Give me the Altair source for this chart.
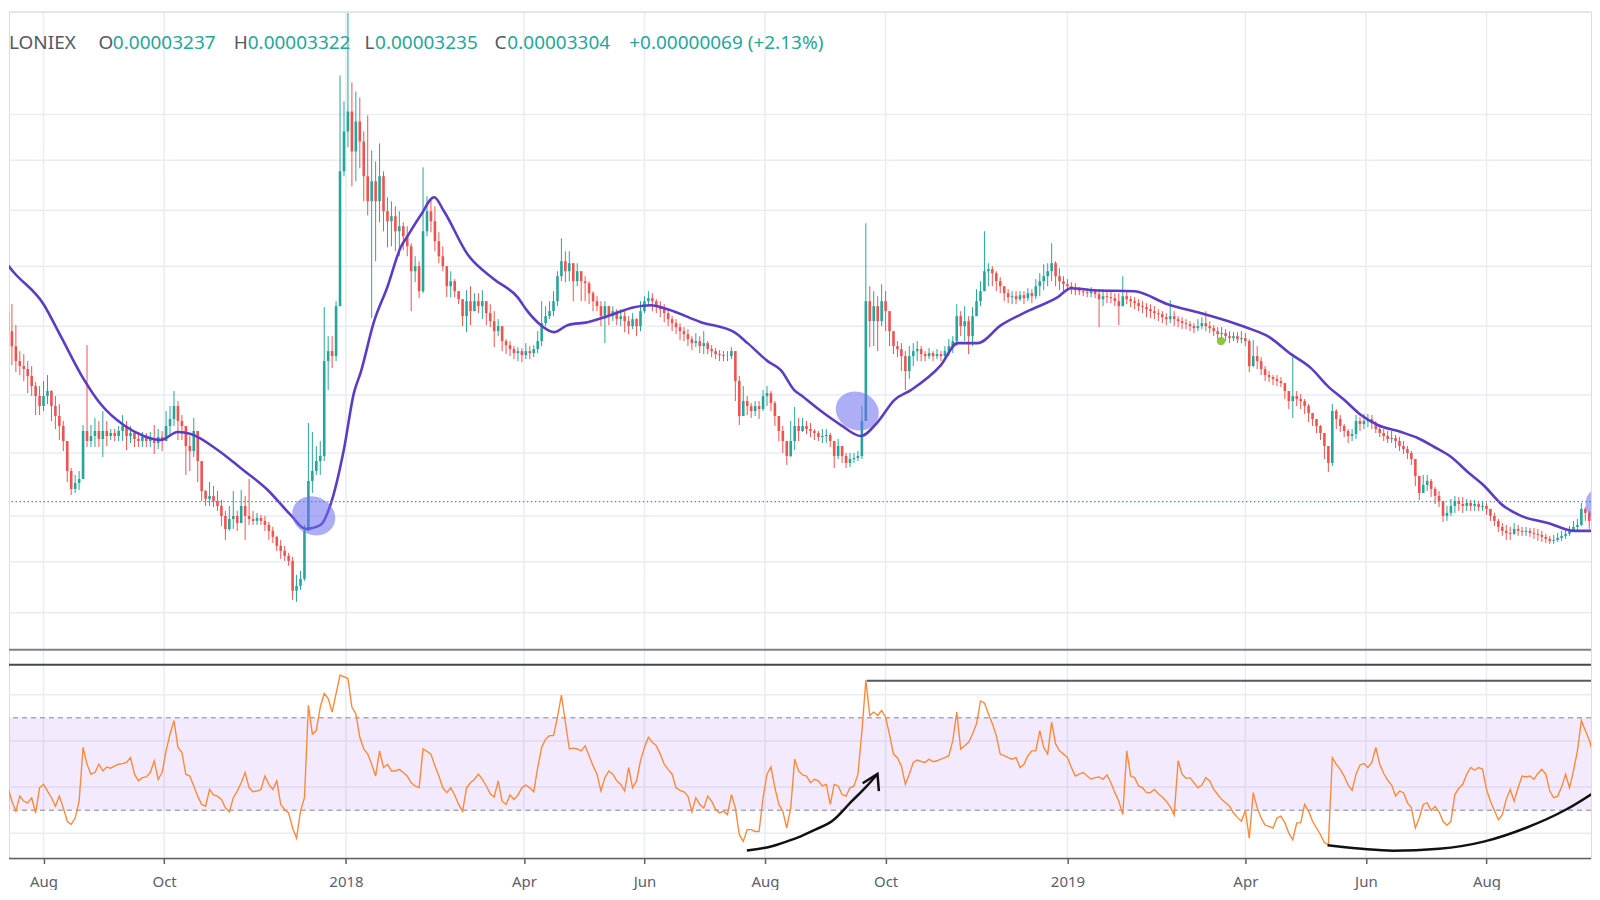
import altair as alt
import pandas as pd

# ---------------- data ----------------
# prices in units of 1e-7 BTC, 2-day candles starting 2017-07-14
FIRST_CANDLE = "2017-07-14"
first_open = 520
close = [
501,486,471,466,463,456,446,436,426,436,
441,426,416,406,391,361,343,349,353,401,
391,396,401,393,401,396,399,396,401,406,
396,399,393,391,395,391,393,389,395,391,
406,413,426,411,406,386,381,401,371,341,
333,336,331,326,316,303,313,316,309,326,
316,313,311,314,311,307,301,295,286,281,
276,271,241,246,253,301,351,361,371,376,
471,481,476,526,661,701,721,681,711,691,
656,631,651,631,656,621,611,616,601,606,
596,586,561,566,541,601,621,611,591,576,
566,546,551,541,533,516,531,521,531,526,
531,519,511,501,506,491,487,483,479,481,
477,481,479,483,491,509,516,521,531,556,
571,561,569,551,561,551,549,539,531,526,
516,526,516,521,513,516,511,506,513,506,
521,531,534,531,526,523,519,513,509,505,
501,498,493,489,491,486,489,483,481,478,
477,476,476,481,451,416,431,426,421,426,
423,436,439,429,416,401,391,376,391,406,
401,406,403,401,399,395,396,397,391,376,
386,376,369,373,374,376,411,531,511,526,
511,531,521,501,486,483,476,461,476,481,
483,478,476,479,476,478,476,481,486,491,
516,506,511,496,516,531,541,561,563,559,
551,546,539,535,536,533,537,534,539,536,
546,551,556,561,569,556,551,548,546,544,
542,541,540,539,541,538,533,536,535,534,
531,526,536,533,531,529,526,525,523,521,
519,518,515,513,516,513,511,509,508,506,
504,506,509,506,504,501,498,499,496,494,
496,493,494,491,466,476,471,463,457,455,
453,451,449,441,431,436,433,431,426,419,
413,406,399,386,369,421,413,406,401,396,
398,411,408,411,413,409,403,399,396,393,
394,391,386,383,379,373,356,339,347,351,
343,336,331,316,319,326,331,328,326,329,
326,328,325,326,323,316,311,305,301,299,
298,303,301,300,301,299,298,297,295,293,
291,292,294,296,298,301,305,307,323,319,
311,316,312]
high = [
542,528,507,481,478,471,466,450,446,451,
457,442,436,428,411,382,364,357,361,407,
487,407,414,411,421,411,403,403,406,417,
411,406,400,400,400,399,400,407,403,401,
421,426,441,431,417,401,396,414,385,371,
342,350,346,341,332,321,326,341,321,342,
336,353,321,319,317,316,310,305,296,292,
286,279,275,257,261,307,409,400,386,391,
525,496,496,531,757,731,821,750,741,735,
701,717,682,671,689,661,635,631,626,621,
610,606,589,576,571,665,636,632,626,600,
586,566,561,553,541,531,542,546,539,539,
542,531,528,521,513,501,493,491,486,485,
484,489,486,487,501,531,526,531,541,561,
594,581,581,561,569,561,556,551,541,536,
531,531,526,526,523,523,521,516,519,514,
531,536,541,539,533,531,528,523,516,513,
509,505,503,496,499,496,501,491,487,484,
482,481,481,485,481,456,446,436,429,431,
431,442,446,441,431,414,406,391,411,425,
414,414,411,409,403,401,403,403,399,391,
393,386,379,379,379,381,426,609,546,541,
536,548,541,516,501,491,489,481,486,489,
491,486,481,484,481,483,481,486,493,496,
528,521,526,516,525,543,551,601,569,566,
561,555,546,543,541,541,541,541,544,543,
553,559,568,569,589,571,564,556,553,550,
549,545,544,544,545,543,543,543,541,541,
539,539,556,541,536,535,533,531,529,528,
526,523,521,519,532,521,516,515,513,511,
509,513,515,521,511,507,505,505,503,501,
500,500,501,499,493,492,486,475,466,461,
457,457,455,448,441,475,441,438,433,428,
419,413,407,396,381,428,423,417,408,403,
403,417,415,418,418,417,411,405,403,401,
401,397,395,391,386,381,371,353,357,357,
353,345,341,326,326,333,336,335,335,333,
332,332,331,331,329,323,319,313,309,307,
305,309,307,305,305,304,304,303,301,298,
296,297,299,301,303,306,311,313,329,325,
321,323,320]
low = [
471,467,460,457,451,439,436,417,417,421,
428,411,403,392,381,350,337,339,342,353,
385,385,385,385,375,386,392,391,391,391,
382,389,385,385,385,385,385,378,383,381,
392,396,406,392,392,357,361,375,350,331,
326,326,325,321,306,292,301,303,301,311,
292,307,307,307,307,301,292,289,281,273,
271,266,232,230,242,251,301,339,357,357,
371,442,464,471,526,656,685,646,651,664,
631,617,514,571,610,601,585,586,581,576,
582,576,521,550,534,539,596,600,581,569,
561,535,535,535,528,506,500,507,521,519,
513,507,505,485,496,481,478,476,473,471,
470,473,473,475,479,486,506,513,516,526,
551,550,551,531,546,531,531,528,521,521,
506,489,507,511,507,506,500,498,503,496,
501,519,526,521,519,515,510,506,501,498,
492,491,486,482,485,479,478,478,475,473,
471,471,471,473,431,407,417,417,414,416,
413,421,426,421,406,391,379,367,375,382,
391,400,398,395,392,391,389,389,385,364,
373,369,364,365,369,371,373,411,485,486,
481,506,501,486,478,475,461,442,453,466,
471,471,471,473,471,473,471,473,476,479,
486,496,491,478,486,516,526,542,546,546,
541,539,531,529,528,528,531,528,531,529,
533,536,542,546,551,546,542,541,541,538,
537,537,536,535,535,534,505,526,529,529,
526,507,526,528,525,523,521,519,515,514,
513,511,509,507,509,506,505,503,503,501,
499,501,503,501,499,496,493,493,491,489,
491,489,489,486,460,465,463,457,451,450,
447,446,445,433,423,414,426,423,418,410,
406,399,392,373,360,366,403,400,395,389,
391,393,401,403,405,403,399,395,391,389,
389,384,381,378,373,367,346,332,339,341,
335,328,325,310,311,316,319,321,319,321,
321,321,321,321,317,311,306,300,296,292,
292,297,296,296,296,295,293,291,290,289,
288,288,290,291,293,296,300,301,306,311,
303,307,306]
rsi = [
39.7,33.9,29.6,36.1,33.9,33.2,35.4,28.8,39.7,41.2,
38.3,35.4,31.7,36.1,31.0,25.2,23.8,26.6,33.9,57.2,
49.9,45.6,46.3,49.9,47.0,48.7,48.2,49.2,49.9,50.2,
50.7,52.8,45.6,42.7,44.1,44.4,46.3,51.4,43.4,46.3,
55.7,63.0,68.8,57.2,55.0,45.6,44.8,40.5,36.1,32.5,
31.7,39.0,36.6,36.1,34.7,31.0,29.3,35.4,38.3,41.9,
46.3,39.7,38.0,38.3,39.0,44.8,41.2,39.0,42.7,32.5,
30.3,28.8,22.3,17.9,29.6,35.4,75.4,63.0,64.5,74.7,
80.5,78.3,72.5,80.5,88.5,87.8,87.0,74.7,71.8,61.6,
56.5,54.3,49.9,44.8,55.7,48.5,49.9,47.0,47.0,47.7,
46.3,44.8,41.9,40.5,39.7,56.5,55.5,54.3,49.2,44.8,
39.7,37.6,39.7,36.6,32.5,29.6,39.7,41.9,43.4,45.6,
43.4,40.5,37.1,35.7,42.7,33.9,32.5,36.6,34.7,36.6,
39.7,40.9,39.7,38.0,48.5,57.2,60.8,62.3,62.3,70.3,
79.8,68.1,56.5,56.9,56.5,55.7,57.9,53.6,49.2,45.6,
38.3,44.1,47.0,45.6,42.7,41.2,38.3,48.5,39.7,42.7,
51.4,57.2,61.6,59.4,57.9,54.3,49.9,47.7,45.6,39.7,
38.6,38.0,36.1,29.3,35.4,32.5,31.0,36.1,33.9,30.3,
28.8,29.6,28.1,36.8,31.0,19.4,16.5,21.6,21.6,20.8,
20.8,35.4,45.6,48.7,39.7,32.5,29.6,22.3,31.0,52.1,
47.0,45.3,44.8,41.9,43.4,42.7,40.5,41.2,32.5,41.2,
40.5,36.8,36.1,39.7,40.5,45.6,63.8,86.3,71.0,72.5,
71.0,73.2,70.3,62.6,54.3,52.6,49.2,41.2,45.6,50.7,
51.7,51.1,50.7,52.1,51.0,51.4,52.1,52.8,53.6,60.1,
72.5,56.5,57.9,59.4,63.0,67.4,77.3,76.4,71.8,67.4,
62.3,54.3,53.6,52.8,52.1,52.8,48.5,49.9,53.6,55.7,
55.7,64.5,57.2,54.3,68.1,58.7,55.7,54.3,52.8,48.5,
44.8,45.6,46.3,44.8,43.4,44.1,44.4,43.4,45.3,41.9,
37.6,33.9,28.1,55.7,44.8,44.1,40.5,39.7,37.6,37.6,
39.0,37.1,35.7,33.9,31.5,27.9,51.4,45.6,43.8,44.1,
41.9,39.7,40.9,44.1,42.7,39.0,36.8,34.7,33.2,31.7,
28.8,26.9,25.2,29.9,17.9,37.6,31.0,26.6,23.5,23.0,
22.3,26.6,27.4,24.5,20.1,17.2,24.5,24.5,32.5,29.6,
25.2,22.3,19.4,16.0,15.0,52.8,49.9,47.7,44.8,40.9,
38.6,45.6,49.6,50.2,48.5,50.7,57.2,49.9,45.9,43.0,
40.9,36.1,38.3,37.6,33.2,31.0,22.3,26.6,32.5,33.2,
29.9,31.7,29.3,25.2,23.5,25.2,36.8,39.5,41.2,45.6,
48.5,47.3,48.5,47.7,39.0,33.9,29.9,25.9,28.1,34.7,
39.0,33.9,39.7,44.8,44.4,44.8,43.4,45.9,47.7,45.6,
38.3,35.4,36.1,40.0,45.6,39.7,47.0,55.7,68.8,64.5,
60.4,54.3,57.0]

# moving average: days since 2017-08-01 and value
ma_days = [-21.7,-15.1,0,8.7,20.3,28.9,40.5,50.7,59.3,67.9,74.5,88.1,99.7,113.4,125,132.6,
           140.2,145.3,151.9,157,160.5,167.1,174.1,180.7,184.1,190.8,197.6,202.6,214.5,227.9,
           239.8,244.8,251.6,258.3,265.1,275.2,285.3,298.8,307.2,315.7,332.6,349.4,356.2,366.3,
           373,379.8,383.1,393.3,403.4,413.5,422,430.4,438.8,454,462.4,472.6,484.4,497.9,513.1,
           519.8,531.6,551.8,568.7,585.6,602.4,610.9,619.3,631.1,641.2,649.7,658.1,666.5,675,
           686.8,695.2,703.6,712.1,720.5,728.9,737.4,747.5,761,774.5,788]
ma_vals = [576,560,528,496,453,428,407,396,392,400,398,382,364,342,317,303,
           307,328,382,439,460,510,546,585,596,617,635,621,578,553,
           535,521,507,500,507,510,516,525,527,523,510,500,489,471,
           462,442,437,421,407,396,410,432,442,467,489,489,507,521,535,
           544,542,541,528,519,509,503,496,478,464,446,432,417,407,
           400,394,385,375,360,346,328,316,309,301,301]

price_grid = [718, 672, 622, 566, 506, 437, 379, 316, 270, 219]
last_price = 330.4
rsi_grid = [20, 40, 60, 80]
rsi_levels = [30, 70]
tick_dates = ["2017-08-01", "2017-10-01", "2018-01-01", "2018-04-01", "2018-06-01",
              "2018-08-01", "2018-10-01", "2019-01-01", "2019-04-01", "2019-06-01", "2019-08-01"]

# annotations (days since 2017-08-01)
ellipse_days = [136.7, 411.7, 791.0]
ellipse_price = [316, 421, 326]
dot_days = [595.7]
dot_price = [491]
hline_days = [416.5, 800]
hline_rsi = 86.1
curve1_days = [355.8, 368, 376.1, 383.1, 390.7, 398.8, 408.9, 416, 421.9]
curve1_rsi = [12.6, 14.3, 16.5, 18.7, 21.7, 25.2, 33.9, 40, 45.7]
arrow_days = [414.4, 421.9, 422.6]
arrow_rsi = [41.7, 45.7, 38.3]
curve2_days = [649.6, 667, 682.7, 706, 729.1, 749.8, 770.3, 788]
curve2_rsi = [14.8, 13.3, 12.5, 13.3, 16.5, 22.3, 30.3, 39.7]

header = [("LONIEX", "dark"), ("O", "dark"), ("0.00003237", "teal"), ("H", "dark"),
          ("0.00003322", "teal"), ("L", "dark"), ("0.00003235", "teal"), ("C", "dark"),
          ("0.00003304", "teal"), ("+0.00000069 (+2.13%)", "teal")]

# ---------------- build tables ----------------
assert len(close) == len(high) == len(low) == len(rsi), (len(close), len(high), len(low), len(rsi))
BASE = pd.Timestamp("2017-08-01")


def iso(ts):
    return ts.strftime("%Y-%m-%dT%H:%M:%SZ")


def from_days(days):
    return [iso(BASE + pd.Timedelta(days=float(d))) for d in days]


n = len(close)
dates = [iso(d) for d in pd.date_range(FIRST_CANDLE, periods=n, freq="2D")]
opens = [first_open] + close[:-1]
candles = pd.DataFrame({"date": dates, "open": opens, "close": close, "high": high, "low": low})
candles["high"] = candles[["high", "open", "close"]].max(axis=1)
candles["low"] = candles[["low", "open", "close"]].min(axis=1)
candles["dir"] = ["up" if c >= o else "down" for o, c in zip(candles["open"], candles["close"])]

ma_df = pd.DataFrame({"date": from_days(ma_days), "ma": ma_vals})
rsi_df = pd.DataFrame({"date": dates, "rsi": rsi})
ell_df = pd.DataFrame({"date": from_days(ellipse_days), "p": ellipse_price})
dot_df = pd.DataFrame({"date": from_days(dot_days), "p": dot_price})
last_df = pd.DataFrame({"p": [last_price]})
hl = from_days(hline_days)
hline_df = pd.DataFrame({"date": [hl[0]], "date2": [hl[1]], "rsi": [hline_rsi]})
curves_df = pd.concat([
    pd.DataFrame({"date": from_days(curve1_days), "rsi": curve1_rsi, "curve": "a", "seq": range(len(curve1_days))}),
    pd.DataFrame({"date": from_days(curve2_days), "rsi": curve2_rsi, "curve": "b", "seq": range(len(curve2_days))}),
])
arrow_df = pd.DataFrame({"date": from_days(arrow_days), "rsi": arrow_rsi, "seq": range(len(arrow_days))})
band_df = pd.DataFrame({"lo": [rsi_levels[0]], "hi": [rsi_levels[1]]})
levels_df = pd.DataFrame({"v": rsi_levels})
pgrid_df = pd.DataFrame({"v": price_grid})
rgrid_df = pd.DataFrame({"v": rsi_grid})
vgrid_df = pd.DataFrame({"date": [d + "T00:00:00Z" for d in tick_dates]})
dummy = pd.DataFrame({"k": [0]})

# ---------------- layout & styling ----------------
W = 1584
MAIN_H = 639          # price pane: 0 .. 639
RSI_TOP = 654         # rsi pane: 654 .. 848
RSI_BOT = 848
FONT = "Noto Sans"
GRID = "#e8edf4"
GREEN = "#26a69a"
RED = "#ef5350"
TEAL = "#26a69a"
DARK = "#555965"
MA_COLOR = "#5b3cc4"
ORANGE = "#fb8a3c"

xscale = alt.Scale(type="utc", nice=False, padding=0, domain=[
    alt.DateTime(year=2017, month=7, date=14, hours=12, minutes=40, utc=True),
    alt.DateTime(year=2019, month=9, date=22, hours=20, minutes=53, utc=True)])
yscale = alt.Scale(domain=[182, 821], range=[MAIN_H, 0], nice=False, zero=False, padding=0)
rscale = alt.Scale(domain=[9.1, 93.0], range=[RSI_BOT, RSI_TOP], nice=False, zero=False, padding=0)

tick_vals = [alt.DateTime(year=int(s[:4]), month=int(s[5:7]), date=int(s[8:10]), utc=True) for s in tick_dates]
label_expr = ("utcFormat(datum.value, '%m') == '01' ? utcFormat(datum.value, '%Y')"
              " : utcFormat(datum.value, '%b')")
ax_x = alt.Axis(values=tick_vals, grid=False,
                labelExpr=label_expr, labelFont=FONT, labelFontSize=15, labelColor="#5d606b",
                labelPadding=11, tickColor="#5d6068", tickSize=5, tickWidth=1.5, domain=False,
                labelFlush=False, labelOverlap=False, title=None)


def X(f="date"):
    return alt.X(f"{f}:T", scale=xscale, axis=ax_x)


def YM(f):
    return alt.Y(f"{f}:Q", scale=yscale, axis=None)


def YR(f):
    return alt.Y(f"{f}:Q", scale=rscale, axis=None)


color_enc = alt.Color("dir:N", scale=alt.Scale(domain=["up", "down"], range=[GREEN, RED]), legend=None)

# vertical grid lines through both panes
vgrid = alt.Chart(vgrid_df).mark_rule(color=GRID, strokeWidth=1.5).encode(x=X())

# ---- price pane ----
pgrid = alt.Chart(pgrid_df).mark_rule(color=GRID, strokeWidth=1.5).encode(y=YM("v"))
wicks = alt.Chart(candles).mark_rule(strokeWidth=1, clip=True).encode(
    x=X(), y=YM("low"), y2="high:Q", color=color_enc)
bodies = alt.Chart(candles).mark_bar(width=2.6, clip=True).encode(
    x=X(), y=YM("open"), y2="close:Q", color=color_enc)
ma_line = alt.Chart(ma_df).mark_line(color=MA_COLOR, strokeWidth=2.6, interpolate="monotone", clip=True).encode(
    x=X(), y=YM("ma"))
last_line = alt.Chart(last_df).mark_rule(color=TEAL, strokeDash=[1.5, 2.5], strokeWidth=1.2).encode(y=YM("p"))
ELLIPSE = "M -1 0 A 1 0.86 0 1 1 1 0 A 1 0.86 0 1 1 -1 0 Z"
ellipses = alt.Chart(ell_df).mark_point(shape=ELLIPSE, size=1950, angle=25, filled=True, color="#6b6bf0",
                                        opacity=0.55, strokeWidth=0, clip=True).encode(x=X(), y=YM("p"))
gdot = alt.Chart(dot_df).mark_point(shape="circle", size=70, filled=True, color="#8cc63f", opacity=1,
                                    strokeWidth=0, clip=True).encode(x=X(), y=YM("p"))
price_pane = alt.layer(pgrid, wicks, bodies, ma_line, last_line, ellipses, gdot)

# ---- rsi pane ----
rgrid = alt.Chart(rgrid_df).mark_rule(color=GRID, strokeWidth=1.5).encode(y=YR("v"))
band = alt.Chart(band_df).mark_rect(color="#8e44f0", opacity=0.11).encode(y=YR("lo"), y2="hi:Q")
levels = alt.Chart(levels_df).mark_rule(color="#a9a9b3", strokeDash=[5, 4], strokeWidth=1.5).encode(y=YR("v"))
rsi_line = alt.Chart(rsi_df).mark_line(color=ORANGE, strokeWidth=1.4, clip=True).encode(x=X(), y=YR("rsi"))
hline = alt.Chart(hline_df).mark_rule(color="#555a63", strokeWidth=2, clip=True).encode(
    x=X(), x2="date2:T", y=YR("rsi"))
curves = alt.Chart(curves_df).mark_line(color="#111111", strokeWidth=2.5, interpolate="monotone", clip=True).encode(
    x=X(), y=YR("rsi"), detail="curve:N", order="seq:Q")
arrow = alt.Chart(arrow_df).mark_line(color="#111111", strokeWidth=2.5, clip=True).encode(
    x=X(), y=YR("rsi"), order="seq:Q")
rsi_pane = alt.layer(rgrid, band, levels, rsi_line, hline, curves, arrow)

# ---- pane borders and header ----
borders = [
    alt.Chart(dummy).mark_rule(color="#dfe3ea", strokeWidth=1.5).encode(y=alt.value(0.75)),
    alt.Chart(dummy).mark_rule(color="#7e8189", strokeWidth=2).encode(y=alt.value(MAIN_H)),
    alt.Chart(dummy).mark_rule(color="#45484f", strokeWidth=2).encode(y=alt.value(RSI_TOP)),
    alt.Chart(dummy).mark_rule(color="#5d6068", strokeWidth=1.6).encode(y=alt.value(RSI_BOT)),
]
header_x = [0, 89.6, 104, 225, 239, 356, 366.5, 486, 499, 621]
header_layers = []
for (txt, tone), hx in zip(header, header_x):
    header_layers.append(
        alt.Chart(dummy).mark_text(text=txt, align="left", baseline="alphabetic", font=FONT, fontSize=19,
                                   color=DARK if tone == "dark" else TEAL)
        .encode(x=alt.value(hx), y=alt.value(37)))

chart = alt.layer(vgrid, price_pane, rsi_pane, *borders, *header_layers).resolve_scale(
    y="independent"
).properties(
    width=W, height=RSI_BOT,
    padding={"left": 0, "top": 2, "right": 0, "bottom": 0}
).configure_view(strokeWidth=0, stroke="transparent").configure_axis(domain=False).configure(
    font=FONT, background="white")

chart.save("out.html", embed_options={"renderer": "svg", "actions": False})
